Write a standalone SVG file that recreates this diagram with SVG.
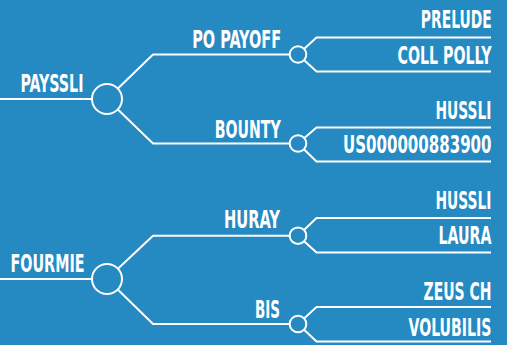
<svg xmlns="http://www.w3.org/2000/svg" width="507" height="345" viewBox="0 0 507 345">
<style>
.ln{fill:none;stroke:#fff;stroke-width:2;stroke-linejoin:miter}
.nd{fill:#268ac2;stroke:#fff;stroke-width:2}
.t{fill:#fff;font-family:"DejaVu Sans Condensed","DejaVu Sans",sans-serif;font-weight:bold;font-size:25.5px;text-anchor:end}
</style>
<rect width="507" height="345" fill="#268ac2"/>
<g id="connectors">
<path class="ln" d="M0 99H107M107 99L153 54.5H298M107 99L153 143.5H298"/>
<path class="ln" d="M298 54.5L316.5 37.5H491M298 54.5L316.5 71.5H491"/>
<path class="ln" d="M298 143.5L316.5 127.5H491M298 143.5L316.5 161.5H491"/>
<path class="ln" d="M0 279H107M107 279L153 235.7H298M107 279L153 324H298"/>
<path class="ln" d="M298 235.7L316.5 218H491M298 235.7L316.5 252.5H491"/>
<path class="ln" d="M298 324L316.5 307H491M298 324L316.5 341.5H491"/>
</g>
<g id="payssli"><circle class="nd" cx="107" cy="99" r="15"/><text class="t" transform="translate(83.5 91.7) scale(0.6 1)" textLength="105" lengthAdjust="spacingAndGlyphs">PAYSSLI</text></g>
<g id="popayoff"><circle class="nd" cx="298" cy="54.5" r="8.3"/><text class="t" transform="translate(281.2 47.7) scale(0.6 1)" textLength="148.3" lengthAdjust="spacingAndGlyphs">PO PAYOFF</text></g>
<g id="bounty"><circle class="nd" cx="298" cy="143.5" r="8.3"/><text class="t" transform="translate(280.7 137.7) scale(0.6 1)" textLength="110" lengthAdjust="spacingAndGlyphs">BOUNTY</text></g>
<g id="prelude"><text class="t" transform="translate(491.8 28.3) scale(0.6 1)" textLength="118.3" lengthAdjust="spacingAndGlyphs">PRELUDE</text></g>
<g id="collpolly"><text class="t" transform="translate(491.5 64) scale(0.6 1)" textLength="156.7" lengthAdjust="spacingAndGlyphs">COLL POLLY</text></g>
<g id="hussli1"><text class="t" transform="translate(491.5 119) scale(0.6 1)" textLength="93.3" lengthAdjust="spacingAndGlyphs">HUSSLI</text></g>
<g id="us"><text class="t" transform="translate(491.5 153.3) scale(0.6 1)" textLength="247.5" lengthAdjust="spacingAndGlyphs">US000000883900</text></g>
<g id="fourmie"><circle class="nd" cx="107" cy="279" r="15"/><text class="t" transform="translate(84.5 271.7) scale(0.6 1)" textLength="123.3" lengthAdjust="spacingAndGlyphs">FOURMIE</text></g>
<g id="huray"><circle class="nd" cx="298" cy="235.7" r="8.3"/><text class="t" transform="translate(280 228.3) scale(0.6 1)" textLength="93.3" lengthAdjust="spacingAndGlyphs">HURAY</text></g>
<g id="bis"><circle class="nd" cx="298" cy="324" r="8.3"/><text class="t" transform="translate(280 318.3) scale(0.6 1)" textLength="41.7" lengthAdjust="spacingAndGlyphs">BIS</text></g>
<g id="hussli2"><text class="t" transform="translate(491.5 209.3) scale(0.6 1)" textLength="93.3" lengthAdjust="spacingAndGlyphs">HUSSLI</text></g>
<g id="laura"><text class="t" transform="translate(491.5 244.3) scale(0.6 1)" textLength="88.3" lengthAdjust="spacingAndGlyphs">LAURA</text></g>
<g id="zeusch"><text class="t" transform="translate(491.5 300.3) scale(0.6 1)" textLength="113.3" lengthAdjust="spacingAndGlyphs">ZEUS CH</text></g>
<g id="volubilis"><text class="t" transform="translate(491.5 335.7) scale(0.6 1)" textLength="138.3" lengthAdjust="spacingAndGlyphs">VOLUBILIS</text></g>
</svg>
